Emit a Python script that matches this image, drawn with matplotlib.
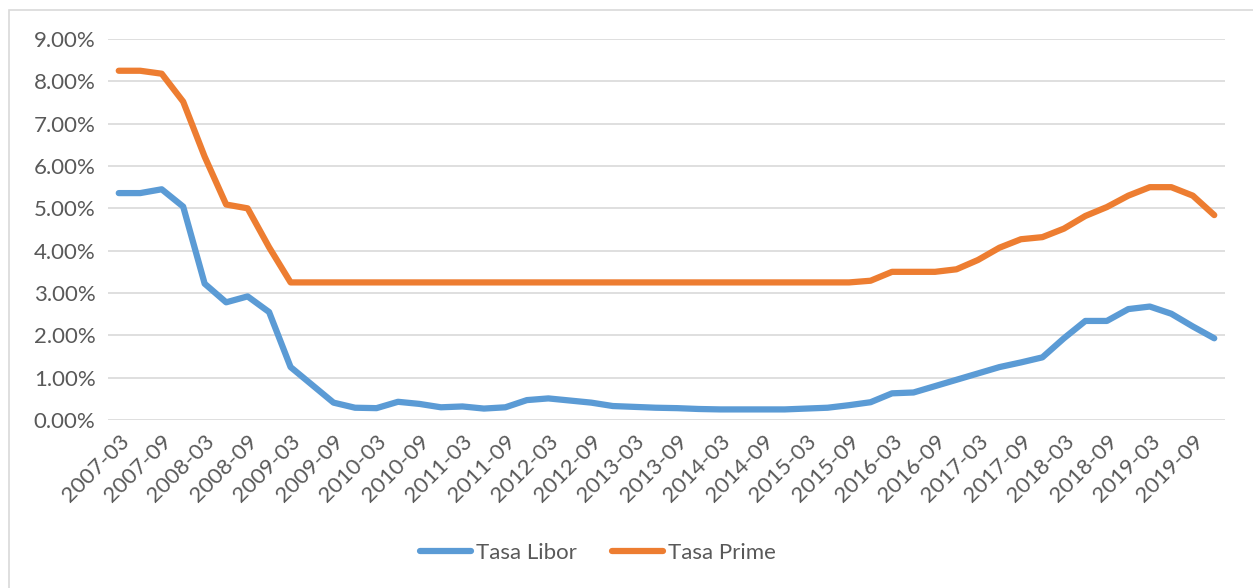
import numpy as np
import matplotlib.pyplot as plt
from matplotlib.patches import Rectangle
from matplotlib.ticker import FuncFormatter

# DATA
##############################################################################
years = list(range(2007, 2020))
months = ["03", "06", "09", "12"]
quarters = [f"{y}-{m}" for y in years for m in months]

libor = [5.36, 5.36, 5.45, 5.04, 3.22, 2.78, 2.92, 2.55, 1.25, 0.83,
         0.41, 0.29, 0.28, 0.43, 0.38, 0.30, 0.32, 0.27, 0.30, 0.47,
         0.51, 0.46, 0.41, 0.33, 0.31, 0.29, 0.28, 0.26, 0.25, 0.25,
         0.25, 0.25, 0.27, 0.29, 0.35, 0.42, 0.63, 0.65, 0.80, 0.95,
         1.10, 1.25, 1.36, 1.48, 1.93, 2.34, 2.34, 2.62, 2.68, 2.51,
         2.21, 1.93]

prime = [8.25, 8.25, 8.18, 7.52, 6.22, 5.09, 5.00, 4.08, 3.25, 3.25,
         3.25, 3.25, 3.25, 3.25, 3.25, 3.25, 3.25, 3.25, 3.25, 3.25,
         3.25, 3.25, 3.25, 3.25, 3.25, 3.25, 3.25, 3.25, 3.25, 3.25,
         3.25, 3.25, 3.25, 3.25, 3.25, 3.29, 3.50, 3.50, 3.50, 3.56,
         3.78, 4.07, 4.27, 4.32, 4.52, 4.82, 5.03, 5.30, 5.50, 5.50,
         5.30, 4.84]

# PLOT
##############################################################################
plt.rcParams['font.family'] = ['Lato', 'DejaVu Sans']
grey_text = "#595959"
grid_col = "#D9D9D9"

fig = plt.figure(figsize=(12.53, 5.88), dpi=100)
fig.patches.append(Rectangle((9 / 1253, -0.1), 1.2, 1 - 10 / 588 + 0.1,
                             transform=fig.transFigure, fill=False,
                             edgecolor=grid_col, linewidth=1.2))

ax = fig.add_axes([108 / 1253, 1 - 420 / 588, (1225 - 108) / 1253, (420 - 39) / 588])
x = np.arange(len(quarters))
ax.plot(x, np.array(libor) / 100, color="#5B9BD5", linewidth=4.5,
        solid_capstyle="round", solid_joinstyle="round", label="Tasa Libor")
ax.plot(x, np.array(prime) / 100, color="#ED7D31", linewidth=4.5,
        solid_capstyle="round", solid_joinstyle="round", label="Tasa Prime")

ax.set_xlim(-0.5, len(quarters) - 0.5)
ax.set_ylim(0, 0.09)
ax.set_yticks(np.arange(0, 0.0901, 0.01))
ax.yaxis.set_major_formatter(FuncFormatter(lambda v, p: f"{v * 100:.2f}%"))
ax.set_xticks(x[::2])
ax.set_xticklabels(quarters[::2], rotation=45, ha="right", rotation_mode="anchor")

ax.grid(axis="y", color=grid_col, linewidth=1.2)
ax.set_axisbelow(True)
for s in ax.spines.values():
    s.set_visible(False)
ax.tick_params(length=0, labelsize=16, labelcolor=grey_text)
ax.tick_params(axis="y", pad=9)
ax.tick_params(axis="x", pad=8)

leg = fig.legend(loc="center", bbox_to_anchor=(598 / 1253, 1 - 553 / 588), ncol=2,
                 frameon=False, fontsize=16, handlelength=2.3, columnspacing=1.6,
                 handletextpad=0.2)
for t in leg.get_texts():
    t.set_color(grey_text)

fig.savefig("out.png", dpi=100)
